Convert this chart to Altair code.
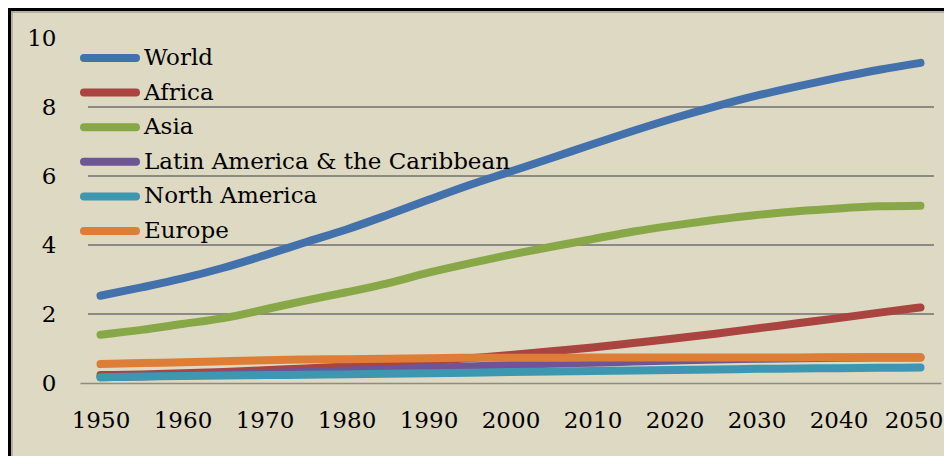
import altair as alt
import pandas as pd

years = list(range(1950, 2051, 5))
series = ["World", "Africa", "Asia", "Latin America & the Caribbean", "North America", "Europe"]
colors = ["#4371AB", "#A94441", "#88A847", "#6E5595", "#3D97B1", "#DE7E36"]

world = [2.53, 2.77, 3.03, 3.34, 3.70, 4.08, 4.45, 4.87, 5.31, 5.74, 6.13, 6.52, 6.92, 7.31, 7.68, 8.02, 8.33, 8.60, 8.85, 9.08, 9.28]
africa = [0.23, 0.25, 0.28, 0.32, 0.37, 0.42, 0.48, 0.55, 0.63, 0.72, 0.81, 0.92, 1.03, 1.16, 1.29, 1.43, 1.58, 1.73, 1.88, 2.04, 2.19]
asia = [1.40, 1.54, 1.71, 1.88, 2.13, 2.39, 2.63, 2.89, 3.20, 3.47, 3.72, 3.95, 4.17, 4.39, 4.57, 4.73, 4.87, 4.98, 5.06, 5.12, 5.14]
latin = [0.17, 0.19, 0.22, 0.25, 0.29, 0.32, 0.36, 0.40, 0.44, 0.48, 0.52, 0.56, 0.59, 0.62, 0.65, 0.68, 0.70, 0.72, 0.73, 0.74, 0.74]
north_america = [0.17, 0.19, 0.20, 0.22, 0.23, 0.24, 0.25, 0.27, 0.28, 0.30, 0.32, 0.33, 0.35, 0.36, 0.38, 0.39, 0.41, 0.42, 0.43, 0.44, 0.45]
europe = [0.55, 0.58, 0.60, 0.63, 0.66, 0.68, 0.69, 0.70, 0.72, 0.73, 0.73, 0.73, 0.74, 0.74, 0.74, 0.74, 0.74, 0.74, 0.75, 0.75, 0.75]

x_ticks = list(range(1950, 2051, 10))
y_ticks = [0, 2, 4, 6, 8, 10]
grid_values = [2, 4, 6, 8]

values = [world, africa, asia, latin, north_america, europe]
rows = []
for i, (name, vals) in enumerate(zip(series, values)):
    for y, v in zip(years, vals):
        rows.append({"year": y, "value": v, "series": name, "order": i})
df = pd.DataFrame(rows)
legend_df = pd.DataFrame({"series": series})

FONT = "DejaVu Serif"
W, H = 861, 345

x_scale = alt.Scale(domain=[1947.5, 2052.5], nice=False, zero=False)
y_scale = alt.Scale(domain=[0, 10], nice=False)
color_scale = alt.Scale(domain=series, range=colors)

y_axis = alt.Axis(values=y_ticks, title=None, grid=False, ticks=False, domain=False,
                  labelFont=FONT, labelFontSize=23, labelColor="#000000",
                  labelPadding=24)

grid = alt.Chart(pd.DataFrame({"g": grid_values})).mark_rule(
    color="#6F6F6F", strokeWidth=1.5
).encode(
    y=alt.Y("g:Q", scale=y_scale, axis=y_axis),
    x=alt.value(8), x2=alt.value(W - 7),
)

lines = alt.Chart(df).mark_line(
    strokeWidth=8, strokeCap="round", strokeJoin="round", interpolate="monotone"
).encode(
    x=alt.X("year:Q", scale=x_scale,
            axis=alt.Axis(values=x_ticks, format="d", title=None, grid=False,
                          ticks=False, domain=True, domainColor="#8C8C8C", domainWidth=1.5,
                          labelFont=FONT, labelFontSize=23, labelColor="#000000",
                          labelPadding=26,
                          labelOffset={"condition": {"test": "datum.value == 2050", "value": -7},
                                       "value": 0})),
    y=alt.Y("value:Q", scale=y_scale, axis=y_axis),
    color=alt.Color("series:N", scale=color_scale, legend=None),
    order=alt.Order("order:Q"),
)

# legend drawn from the series list through a point scale (default half-step padding)
leg_y = alt.Y("series:N", scale=alt.Scale(domain=series, range=[2.7, 210.3]), axis=None)
leg_sym = alt.Chart(legend_df).mark_rule(strokeWidth=8, strokeCap="round").encode(
    y=leg_y, x=alt.value(4), x2=alt.value(56),
    color=alt.Color("series:N", scale=color_scale, legend=None),
)
leg_txt = alt.Chart(legend_df).mark_text(
    align="left", baseline="middle", font=FONT, fontSize=23, color="#000000"
).encode(y=leg_y, x=alt.value(64), text="series:N")

border_df = pd.DataFrame({"a": [0]})
left_border = alt.Chart(border_df).mark_rule(color="#000000", strokeWidth=3).encode(
    x=alt.value(-70.5), y=alt.value(-31), y2=alt.value(H + 120))
top_border = alt.Chart(border_df).mark_rule(color="#000000", strokeWidth=3).encode(
    y=alt.value(-28.5), x=alt.value(-72), x2=alt.value(W + 40))
left_inner = alt.Chart(border_df).mark_rule(color="#8A8A8A", strokeWidth=1).encode(
    x=alt.value(-68), y=alt.value(-27), y2=alt.value(H + 120))
top_inner = alt.Chart(border_df).mark_rule(color="#8A8A8A", strokeWidth=1).encode(
    y=alt.value(-26), x=alt.value(-69), x2=alt.value(W + 40))

main = alt.layer(grid, lines)
legend = alt.layer(leg_sym, leg_txt)

chart = alt.layer(
    main, legend, left_border, top_border, left_inner, top_inner
).resolve_scale(y="independent").properties(
    width=W, height=H,
    autosize=alt.AutoSizeParams(type="none"),
    padding={"left": 72, "top": 30, "right": 3, "bottom": 73},
    background="#DDD9C3",
).configure_view(stroke=None)

chart.save("out.html", embed_options={"renderer": "svg", "actions": False})
